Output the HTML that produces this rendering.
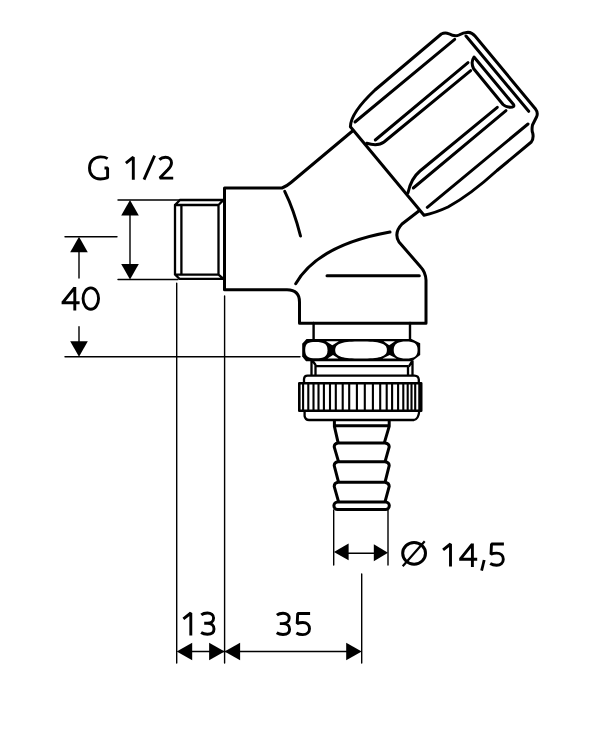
<!DOCTYPE html>
<html><head><meta charset="utf-8">
<style>
html,body{margin:0;padding:0;background:#fff;width:600px;height:734px;overflow:hidden}
svg{display:block}
text{font-family:"Liberation Sans",sans-serif;fill:#000}
</style></head>
<body>
<svg width="600" height="734" viewBox="0 0 600 734">
<g fill="none" stroke="#000" stroke-linecap="round" stroke-linejoin="round">
<!-- thin dimension lines -->
<g stroke-width="1.4">
  <path d="M118,200 L180,200 M118,279.5 L178,279.5 M130,212 L130,267"/>
  <path d="M65,236.7 L117,236.7 M65,356.7 L300,356.7 M79,250 L79,278 M79,326.7 L79,343"/>
  <path d="M176.7,283.3 L176.7,663 M224.6,296 L224.6,663 M361.7,574 L361.7,663 M190,651.5 L350,651.5"/>
  <path d="M333.7,510 L333.7,565 M388,510 L388,565 M346,553.3 L376,553.3"/>
</g>
</g>
<!-- arrowheads -->
<g fill="#000" stroke="none">
  <path d="M130,200 L121.2,215.5 L138.8,215.5 Z"/>
  <path d="M130,279.5 L121.2,264 L138.8,264 Z"/>
  <path d="M79,236.7 L70.2,252.2 L87.8,252.2 Z"/>
  <path d="M79,356.7 L70.2,341.2 L87.8,341.2 Z"/>
  <path d="M176.7,651.5 L192.2,642.7 L192.2,660.3 Z"/>
  <path d="M224.6,651.5 L209.1,642.7 L209.1,660.3 Z"/>
  <path d="M224.6,651.5 L240.1,642.7 L240.1,660.3 Z"/>
  <path d="M361.7,651.5 L346.2,642.7 L346.2,660.3 Z"/>
  <path d="M333.9,552 L348.6,543.4 L348.6,560.2 Z"/>
  <path d="M388,552.8 L373.8,544.3 L373.8,561.2 Z"/>
</g>
<!-- text -->
<defs>
<path id="g1" d="M0.9,7.3 L8.3,1.4 L8.3,24"/>
<path id="g3" d="M0.9,3.3 C2.6,1.9 4.6,1.4 7,1.4 C10.8,1.4 13.2,3.4 13.2,6.4 C13.2,9.6 10.6,11.7 7,11.7 L3.8,11.7 M7,11.7 C11.2,11.7 13.6,14 13.6,17.3 C13.6,20.7 10.9,22.6 7,22.6 C4.5,22.6 2.5,22.1 0.7,20.9"/>
<path id="g5" d="M14.6,1.45 L2.2,1.45 L1.7,11.6 C3.2,10.9 5,10.5 7.3,10.5 C11.5,10.5 14,13.2 14,16.7 C14,20.3 11.3,22.6 7.3,22.6 C4.9,22.6 2.8,22.1 0.9,20.9"/>
<path id="g4" d="M13.4,24.2 L13.4,0.6 M13.3,1.3 L1.5,16 M0.2,16.4 L18.2,16.4"/>
<path id="g2" d="M1.2,3.8 C2.9,2.1 5,1.4 7.3,1.4 C10.9,1.4 13.3,3.6 13.3,6.9 C13.3,9.6 11.8,11.7 9.6,14 L1.6,22.3 L15,22.3"/>
</defs>
<g fill="none" stroke="#000" stroke-width="2.9" stroke-linecap="butt" stroke-linejoin="bevel">
  <path d="M107.6,158.6 C105.8,157.4 103.3,156.9 100.6,156.9 C93.9,156.9 89.5,161.4 89.5,168 C89.5,174.7 93.8,179 100.4,179 C103.1,179 105.6,178.5 107.6,177.7 L107.6,168 L104.5,168"/>
  <use href="#g1" x="125" y="155.8"/>
  <path d="M154.6,155.6 L144,179.6"/>
  <use href="#g2" x="158.2" y="155.8"/>
  <use href="#g4" x="61.4" y="286.4"/>
  <ellipse cx="90.8" cy="298.55" rx="7.75" ry="10.7"/>
  <use href="#g1" x="182.5" y="611.6"/>
  <use href="#g3" x="200.4" y="611.6"/>
  <use href="#g3" x="276" y="611.9"/>
  <use href="#g5" x="295.5" y="612"/>
  <ellipse cx="414.1" cy="553.3" rx="11.4" ry="10.9" stroke-width="3"/>
  <path d="M402.7,566.3 L424.7,541.3" stroke-width="2.2"/>
  <use href="#g1" x="442.2" y="542.6"/>
  <use href="#g4" x="459" y="542.9"/>
  <path d="M484.2,560 L481.6,570.6" stroke-width="2.8"/>
  <use href="#g5" x="489.3" y="542.6"/>
</g>

<g fill="none" stroke="#000" stroke-width="3" stroke-linecap="round" stroke-linejoin="round">
<!-- thread -->
<path stroke-width="2.3" stroke-linejoin="miter" d="M180,200 L223.5,200 M180,200 L175,205 L175,274.6 L179.6,278.8 L223.5,278.8 M175,205 L218.5,205 M175,274.6 L218.5,274.6 M181.4,205 L181.4,274.6 M218.5,205 L218.5,274.6 M218.5,205 L223.5,200 M218.5,274.6 L223.5,278.8"/>
<!-- body -->
<path d="M352.5,131 L291,182.5 Q287,186 282,188 L224.5,188 L224.5,289.8 L287,289.8 Q299.5,290 299.5,302 L299.5,323.3 L426,323.3 L426,280 Q425.5,272 420.7,267 L399,242 Q393.5,233 402,224 L419.5,210.5"/>
<path d="M284.7,191.3 Q294,210 300.5,236"/>
<path d="M295.7,283.7 Q318,245 390,232"/>
<path d="M327,275.7 L419.3,275.7"/>
<!-- knob -->
<path d="M350.4,126.7 C350.5,119 358,106 375,90 L441.3,34 Q445,32.3 449,33.8 Q454.7,37 459,35 Q463,32.8 468,32.3 Q472,32.5 475,36 L535.3,108.7 Q538.5,113 536.5,117 Q534.5,121 532.5,125 Q531.5,130 532.7,133 Q534,138 531.3,142 L497,170.5 Q470,195 448,207 Q435,213 424,215.3 L350.4,126.7 Z"/>
<path d="M355,122 L454.7,39.3"/>
<path d="M375.3,140 L468,62.7"/>
<path d="M366.7,143.3 Q378,146.5 384,142 L470.7,70.7"/>
<path d="M466,36 L528.7,111.3"/>
<path d="M474,57 L513.5,104.5 Q515,107.5 510,107.3 Q505,106.5 503,104.5 L473.5,68.5 Q470.5,62 474,57 Z"/>
<path d="M497.3,107.3 L420,171 Q411,178.5 408,192.7"/>
<path d="M506,110.7 L413.3,188"/>
<path d="M528,124 L427.3,207.3"/>
<!-- stem -->
<path stroke-width="2.4" d="M313.6,323 L313.6,340 M410,323 L410,340"/>
</g>
<!-- hex nut -->
<path fill="#000" d="M306.5,338.9 L411.5,338.9 L420.2,343.3 L420.2,355 L412,361.2 L306,361.2 L302.2,356.5 L302.2,343.8 Z"/>
<g fill="#fff" stroke="none">
<path d="M305.2,350 C305.2,343 308.5,342.1 315.5,342.1 C324,342.1 327.5,344 327.5,350.2 C327.5,356.5 324,358.3 315.5,358.3 C308.5,358.3 305.2,357 305.2,350 Z"/>
<path d="M335.2,350 C335.2,343 343,341.5 361,341.5 C379,341.5 386.9,343 386.9,350 C386.9,357 379,358.5 361,358.5 C343,358.5 335.2,357 335.2,350 Z"/>
<path d="M393.7,350 C393.7,343.5 398.5,341.5 406,341.5 C414,341.5 417.6,343.5 417.6,350 C417.6,356.5 414,358.5 406,358.5 C398.5,358.5 393.7,356.5 393.7,350 Z"/>
<path d="M326,341.3 L338.8,341.3 L332.3,345.3 Z M327.5,358.6 L338.5,358.6 L333,355 Z M383.5,341.3 L395,341.3 L389.2,345.3 Z M382.5,358.6 L396.5,358.6 L389.7,355 Z"/>
</g>
<g fill="none" stroke="#000" stroke-width="2.3" stroke-linecap="butt" stroke-linejoin="round">
<!-- band -->
<path d="M316.5,366.1 L408,366.1 M311.5,360.5 L311.5,375 M315.5,365 L315.5,375 M312.7,361 L315.8,365.2 M408,366.5 L408,375 M412.5,360.5 L412.5,375 M408.8,366.7 L412,361.3"/>
<!-- knurl nut -->
<path d="M304,383 L304,379 Q304.3,375.6 307.5,375.6 L414.5,375.6 Q418.5,375.8 418.8,379.5 L418.8,383"/>
<rect x="299.3" y="383.2" width="121.9" height="27.6" stroke-width="2.6"/>
<path stroke-width="2.1" d="M303.1,383 L303.1,410.5 M308.3,383 L308.3,410.5 M313.5,383 L313.5,410.5 M318.5,383 L318.5,410.5 M323.9,383 L323.9,410.5 M330,383 L330,410.5 M335.8,383 L335.8,410.5 M342.7,383 L342.7,410.5 M349.2,383 L349.2,410.5 M356.9,383 L356.9,410.5 M364.8,383 L364.8,410.5 M372.9,383 L372.9,410.5 M380.2,383 L380.2,410.5 M386.7,383 L386.7,410.5 M392.1,383 L392.1,410.5 M398.1,383 L398.1,410.5 M403.3,383 L403.3,410.5 M407.7,383 L407.7,410.5 M411.5,383 L411.5,410.5 M415.2,383 L415.2,410.5 M419.3,383 L419.3,410.5"/>
<path d="M304.6,410.5 L304.6,416 Q305.3,420 309,420 L414,420 Q418.5,419 419.2,411.5"/>
<!-- hose barb -->
<g stroke-width="3">
<path d="M334.4,420.5 L334.4,426.3 L338.1,442.6 M389.2,420.5 L389.2,426.3 L384.4,442.6 M335.6,425.8 L388.1,425.8"/>
<path d="M338,443 L385,443 Q389.2,443.5 389.2,446.8 L385,461.8 M338,443 Q334.2,443.5 334.2,446.8 L338.6,461.8"/>
<path d="M338,461.8 L385,461.8 Q389.2,462.3 389.2,465.6 L385,482.3 M338,461.8 Q334.2,462.3 334.2,465.6 L338.6,482.3"/>
<path d="M338,482.3 L385,482.3 Q389.2,483 389.2,486.3 L385,501.9 M338,482.3 Q334.2,483 334.2,486.3 L338.6,501.9"/>
<rect x="333.9" y="501.9" width="55.4" height="7.6" rx="3.7"/>
</g>
</g>
</svg>
</body></html>
